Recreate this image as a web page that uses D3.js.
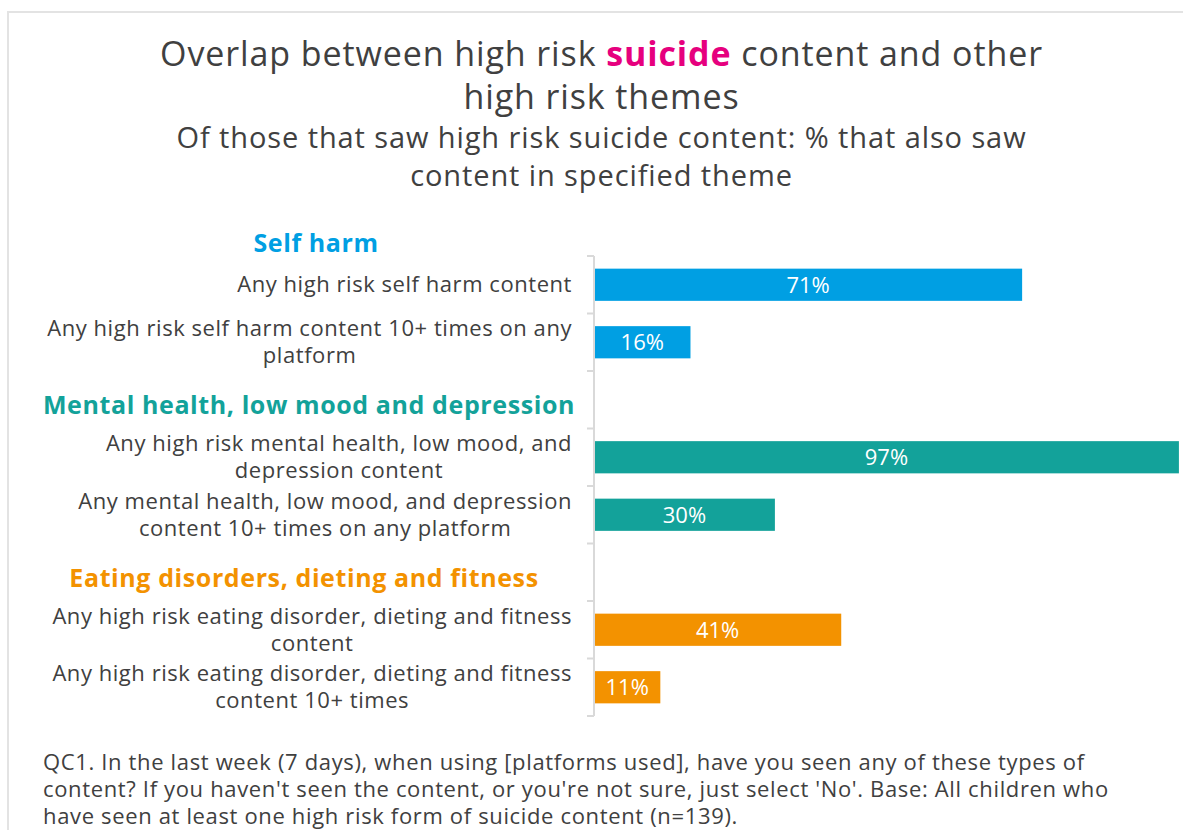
<!DOCTYPE html>
<html>
<head>
<meta charset="utf-8">
<script src="https://cdn.jsdelivr.net/npm/d3@7"></script>
<style>
  body { margin: 0; background: #fff; }
  svg { display: block; }
  text { font-family: "Open Sans", Lato, sans-serif; }
</style>
</head>
<body>
<svg width="1183" height="830"></svg>
<script>
// data
const groups = ["Self harm", "Mental health, low mood and depression", "Eating disorders, dieting and fitness"];
const groupColors = ["#009fe3", "#13a29a", "#f39200"];
const categories = [
  "Any high risk self harm content",
  "Any high risk self harm content 10+ times on any\nplatform",
  "Any high risk mental health, low mood, and\ndepression content",
  "Any mental health, low mood, and depression\ncontent 10+ times on any platform",
  "Any high risk eating disorder, dieting and fitness\ncontent",
  "Any high risk eating disorder, dieting and fitness\ncontent 10+ times"
];
const categoryGroup = [0, 0, 1, 1, 2, 2];
const values = [71, 16, 97, 30, 41, 11];

const titleLine1 = ["Overlap between high risk ", "suicide", " content and other"];
const titleLine2 = "high risk themes";
const subtitleLines = ["Of those that saw high risk suicide content: % that also saw", "content in specified theme"];
const footnoteLines = [
  "QC1. In the last week (7 days), when using [platforms used], have you seen any of these types of",
  "content? If you haven't seen the content, or you're not sure, just select 'No'. Base: All children who",
  "have seen at least one high risk form of suicide content (n=139)."
];

const svg = d3.select("svg");
const width = 1183;
const textColor = "#404040";

// frame
svg.append("path")
  .attr("d", "M8,830V12H1183")
  .attr("fill", "none")
  .attr("stroke", "#e3e3e3")
  .attr("stroke-width", 2);

// title
const t1 = svg.append("text")
  .attr("x", width / 2 + 10).attr("y", 66)
  .attr("text-anchor", "middle")
  .attr("letter-spacing", 0.9)
  .attr("font-size", 34).attr("fill", textColor);
titleLine1.forEach(function (s, i) {
  const ts = t1.append("tspan").text(s);
  if (i === 1) ts.attr("fill", "#e6007e").attr("font-weight", "bold");
});
svg.append("text")
  .attr("x", width / 2 + 10).attr("y", 109)
  .attr("text-anchor", "middle")
  .attr("letter-spacing", 0.9)
  .attr("font-size", 34).attr("fill", textColor)
  .text(titleLine2);

svg.selectAll(".subtitle")
  .data(subtitleLines)
  .enter().append("text")
  .attr("class", "subtitle")
  .attr("x", width / 2 + 10)
  .attr("y", function (d, i) { return 148 + i * 38; })
  .attr("text-anchor", "middle")
  .attr("letter-spacing", 0.9)
  .attr("font-size", 29).attr("fill", textColor)
  .text(function (d) { return d; });

// rows: categories with an empty header row before each group after the first
const rows = [];
categories.forEach(function (c, i) {
  if (i > 0 && categoryGroup[i] !== categoryGroup[i - 1]) rows.push("h" + categoryGroup[i]);
  rows.push("c" + i);
});

const x = d3.scaleLinear().domain([0, 100]).range([594, 1197]);
const y = d3.scaleBand().domain(rows).range([256, 716]).paddingInner(0.44).paddingOuter(0.22);

// axis line and ticks at band boundaries
const axisG = svg.append("g");
axisG.append("line")
  .attr("x1", x(0)).attr("x2", x(0))
  .attr("y1", y.range()[0]).attr("y2", y.range()[1])
  .attr("stroke", "#d9d9d9").attr("stroke-width", 2);
axisG.selectAll(".tick")
  .data(d3.range(rows.length + 1))
  .enter().append("line")
  .attr("x1", x(0) - 7).attr("x2", x(0))
  .attr("y1", function (i) { return y.range()[0] + i * y.step(); })
  .attr("y2", function (i) { return y.range()[0] + i * y.step(); })
  .attr("stroke", "#d9d9d9").attr("stroke-width", 2);

// bars
const data = categories.map(function (c, i) {
  return { key: "c" + i, label: c, value: values[i], group: categoryGroup[i] };
});

svg.append("g").selectAll("rect")
  .data(data)
  .enter().append("rect")
  .attr("x", x(0) + 1)
  .attr("y", function (d) { return y(d.key); })
  .attr("width", function (d) { return x(d.value) - x(0) - 1; })
  .attr("height", y.bandwidth())
  .attr("fill", function (d) { return groupColors[d.group]; });

svg.append("g").selectAll("text")
  .data(data)
  .enter().append("text")
  .attr("x", function (d) { return (x(0) + x(d.value)) / 2; })
  .attr("y", function (d) { return y(d.key) + y.bandwidth() / 2; })
  .attr("dy", "0.36em")
  .attr("text-anchor", "middle")
  .attr("font-size", 22)
  .attr("font-family", "Lato, sans-serif")
  .attr("fill", "#fff")
  .text(function (d) { return d.value + "%"; });

// category labels, right aligned block with lines centred inside it
const labelRight = 572;
const lineH = 27;
const labelG = svg.append("g").attr("font-size", 22).attr("letter-spacing", 0.55).attr("fill", textColor);
data.forEach(function (d) {
  const lines = d.label.split("\n");
  const cy = y(d.key) + y.bandwidth() / 2;
  const txt = labelG.append("text").attr("text-anchor", "middle");
  const spans = lines.map(function (l, i) {
    return txt.append("tspan")
      .attr("y", cy + (i - (lines.length - 1) / 2) * lineH)
      .attr("dy", "0.35em")
      .text(l);
  });
  const maxW = d3.max(spans, function (s) { return s.node().getComputedTextLength(); });
  spans.forEach(function (s) { s.attr("x", labelRight - maxW / 2); });
});

// group headers (each sits in its own box, centres drift a little)
const headerCenters = [316, 309, 304];
groups.forEach(function (g, gi) {
  const first = categoryGroup.indexOf(gi);
  const top = y("c" + first) - (y.step() - y.bandwidth()) / 2;
  const cy = gi === 0 ? top - 13 : top - 23;
  svg.append("text")
    .attr("x", headerCenters[gi]).attr("y", cy)
    .attr("dy", "0.35em")
    .attr("text-anchor", "middle")
    .attr("letter-spacing", 0.6)
    .attr("font-size", 25).attr("font-weight", "bold")
    .attr("fill", groupColors[gi])
    .text(g);
});

// footnote
svg.selectAll(".foot")
  .data(footnoteLines)
  .enter().append("text")
  .attr("class", "foot")
  .attr("x", 43)
  .attr("y", function (d, i) { return 770 + i * 27; })
  .attr("letter-spacing", 0.65)
  .attr("font-size", 22).attr("fill", textColor)
  .text(function (d) { return d; });
</script>
</body>
</html>
